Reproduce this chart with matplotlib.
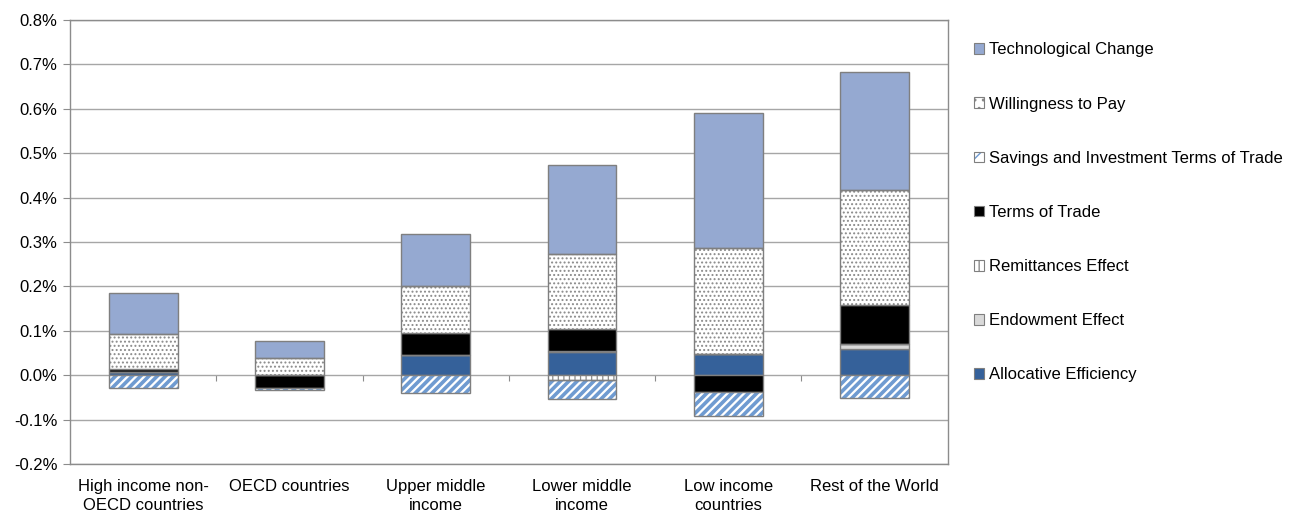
import matplotlib
matplotlib.use("Agg")
import matplotlib.pyplot as plt
import numpy as np
from matplotlib.patches import Patch
from matplotlib.ticker import FuncFormatter, FixedLocator
from matplotlib.legend_handler import HandlerTuple

plt.rcParams['font.family'] = ['Liberation Sans', 'DejaVu Sans']

categories = ["High income non-\nOECD countries", "OECD countries", "Upper middle\nincome",
              "Lower middle\nincome", "Low income\ncountries", "Rest of the World"]

# contributions in percentage points, in stacking order
allocative = [0.007, 0.000, 0.045, 0.052, 0.047, 0.059]
endowment = [0.000, 0.000, 0.000, 0.002, 0.000, 0.012]
remittances = [0.000, 0.000, 0.000, -0.011, 0.000, 0.000]
terms_of_trade = [0.008, -0.030, 0.049, 0.051, -0.038, 0.087]
savings_tot = [-0.028, -0.004, -0.041, -0.043, -0.054, -0.052]
willingness = [0.077, 0.039, 0.106, 0.167, 0.240, 0.258]
technological = [0.093, 0.038, 0.119, 0.202, 0.303, 0.266]

series = [
    ("Allocative Efficiency", allocative, dict(fc="#35619a", hatch=None, hc=None)),
    ("Endowment Effect", endowment, dict(fc="#d9d9d9", hatch=None, hc=None)),
    ("Remittances Effect", remittances, dict(fc="white", hatch="|||", hc="#8c8c8c")),
    ("Terms of Trade", terms_of_trade, dict(fc="black", hatch=None, hc=None)),
    ("Savings and Investment Terms of Trade", savings_tot, dict(fc="white", hatch="////", hc="#6f9bd1")),
    ("Willingness to Pay", willingness, dict(fc="white", hatch="....", hc="#8a8a8a")),
    ("Technological Change", technological, dict(fc="#95a9d1", hatch=None, hc=None)),
]

hatch_widths = {"////": 2.6, "|||": 0.9, "....": 0.9}

edge = "#7f7f7f"
width = 0.47

fig = plt.figure(figsize=(12.98, 5.11), dpi=100)
ax = fig.add_axes([0.054, 0.092, 0.676, 0.869])

x = np.arange(len(categories))
pos_base = np.zeros(len(categories))
neg_base = np.zeros(len(categories))
handles = []
for name, vals, st in series:
    v = np.array(vals, dtype=float)
    bottom = np.where(v >= 0, pos_base, neg_base)
    if st["hatch"]:
        hlw = hatch_widths[st["hatch"]]
        with plt.rc_context({"hatch.linewidth": hlw, "hatch.color": st["hc"]}):
            bars = ax.bar(x, v, width, bottom=bottom, color=st["fc"], edgecolor=st["hc"],
                          hatch=st["hatch"], linewidth=0, zorder=3)
            for b in bars:
                if hasattr(b, "set_hatch_linewidth"):
                    b.set_hatch_linewidth(hlw)
        ax.bar(x, v, width, bottom=bottom, color="none", edgecolor=edge, linewidth=1.0, zorder=4)
        lw_leg = min(hlw, 1.2)
        with plt.rc_context({"hatch.linewidth": lw_leg, "hatch.color": st["hc"]}):
            leg_hatch = st["hatch"][:2] if st["hatch"] != "...." else ".."
            h = Patch(facecolor=st["fc"], edgecolor=st["hc"], hatch=leg_hatch, linewidth=0)
            if hasattr(h, "set_hatch_linewidth"):
                h.set_hatch_linewidth(lw_leg)
        handles.append((name, [h, Patch(facecolor="none", edgecolor=edge, linewidth=0.8)]))
    else:
        ax.bar(x, v, width, bottom=bottom, color=st["fc"], edgecolor=edge, linewidth=1.0, zorder=3)
        handles.append((name, [Patch(facecolor=st["fc"], edgecolor=edge, linewidth=0.8)]))
    pos_base += np.where(v >= 0, v, 0)
    neg_base += np.where(v < 0, v, 0)

ax.set_xlim(-0.5, len(categories) - 0.5)
ax.set_ylim(-0.2, 0.8)
ax.yaxis.set_major_locator(FixedLocator(np.arange(-0.2, 0.81, 0.1)))
ax.yaxis.set_major_formatter(FuncFormatter(lambda v, p: f"{v:.1f}%"))
ax.grid(axis="y", color="#a6a6a6", linewidth=1.0, zorder=0)
ax.set_axisbelow(True)
for s in ax.spines.values():
    s.set_color("#8c8c8c")
    s.set_linewidth(1.0)
ax.tick_params(axis="y", length=5, color="#8c8c8c", labelsize=12, pad=4)
ax.set_xticks(x)
ax.set_xticklabels(categories, fontsize=12, linespacing=1.3)
ax.tick_params(axis="x", length=0, pad=11)

# category separators on the zero line
sec = ax.secondary_xaxis(0, transform=ax.transData)
sec.set_xticks(np.arange(0.5, len(categories) - 0.5, 1.0))
sec.set_xticklabels([])
sec.tick_params(length=4, color="#8c8c8c", direction="out")
sec.spines["bottom"].set_visible(False)

leg_items = list(reversed(handles))
leg = fig.legend([tuple(h) for _, h in leg_items], [n for n, _ in leg_items],
                 handler_map={tuple: HandlerTuple(ndivide=1, pad=0)},
                 loc="upper left", bbox_to_anchor=(0.745, 0.93), frameon=False,
                 fontsize=12, handlelength=0.6, handleheight=0.6, handletextpad=0.3,
                 labelspacing=2.35, borderaxespad=0)

fig.savefig("out.png", dpi=100)
